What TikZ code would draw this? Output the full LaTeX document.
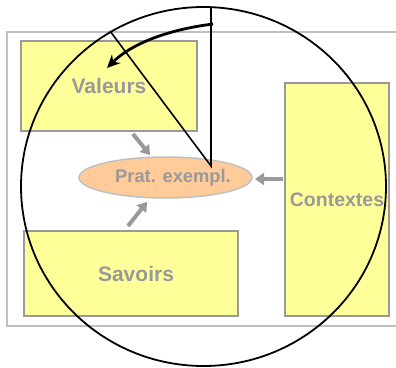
\documentclass[tikz,border=0pt]{standalone}
\usepackage{fontspec}
\setmainfont{Liberation Sans}
\usetikzlibrary{arrows.meta,shapes.geometric}
\definecolor{boxyellow}{HTML}{FFFF99}
\definecolor{boxgray}{HTML}{999999}
\definecolor{framegray}{HTML}{C0C0C0}
\definecolor{peach}{HTML}{FFCC99}
\tikzset{
  box/.style={draw=boxgray, line width=2pt, fill=boxyellow, inner sep=0pt,
    text=boxgray, font=\bfseries},
  grayarrow/.style={draw=boxgray, line width=4pt, -{Triangle[length=9pt,width=12pt]}},
  thinline/.style={draw=black, line width=1.6pt},
}
\begin{document}
\begin{tikzpicture}[x=1pt,y=-1pt]
\useasboundingbox (0,0) rectangle (396,367);
% outer frame
\draw[framegray, line width=2pt] (7,32) rectangle (398,326);
% boxes
\node[box, minimum width=176pt, minimum height=90pt, font=\bfseries\fontsize{21}{24}\selectfont] (val) at (109,86) {\raisebox{-2pt}{Valeurs}};
\node[box, minimum width=214pt, minimum height=85pt, font=\bfseries\fontsize{21}{24}\selectfont] (sav) at (131,273.5) {\hspace{10pt}\raisebox{-2pt}{Savoirs}};
\node[box, minimum width=104pt, minimum height=233pt, font=\bfseries\fontsize{19.5}{22}\selectfont] (ctx) at (337,199.5) {Contextes};
\node[ellipse, draw=framegray, line width=1.5pt, fill=peach, inner sep=0pt,
  minimum width=173pt, minimum height=41pt,
  label={[text=boxgray, xshift=7.5pt, font=\bfseries\fontsize{18.3}{21}\selectfont]center:Prat. exempl.}] (pe) at (165.5,177.5) {};
% gray arrows
\coordinate (a1s) at (133,134); \coordinate (a1e) at (150,155);
\coordinate (a2s) at (128,226); \coordinate (a2e) at (147,202);
\coordinate (a3s) at (283,179); \coordinate (a3e) at (255,179);
\draw[grayarrow] (a1s) -- (a1e);
\draw[grayarrow] (a2s) -- (a2e);
\draw[grayarrow] (a3s) -- (a3e);
% circle
\node[ellipse, draw=black, line width=1.8pt, inner sep=0pt,
  minimum width=365pt, minimum height=359pt] (circ) at (203.5,186.5) {};
% pie slice lines
\coordinate (apex) at (211,166);
\coordinate (top) at (211,7);
\coordinate (left) at (110,31);
\draw[thinline] (top) -- (apex) -- (left);
% curved arrow
\coordinate (cs) at (213,24);
\coordinate (ce) at (107,68);
\draw[black, line width=2.8pt, -{Stealth[length=13pt,width=12pt]}]
  (cs) .. controls (165,30) and (130,45) .. (ce);
\end{tikzpicture}
\end{document}
